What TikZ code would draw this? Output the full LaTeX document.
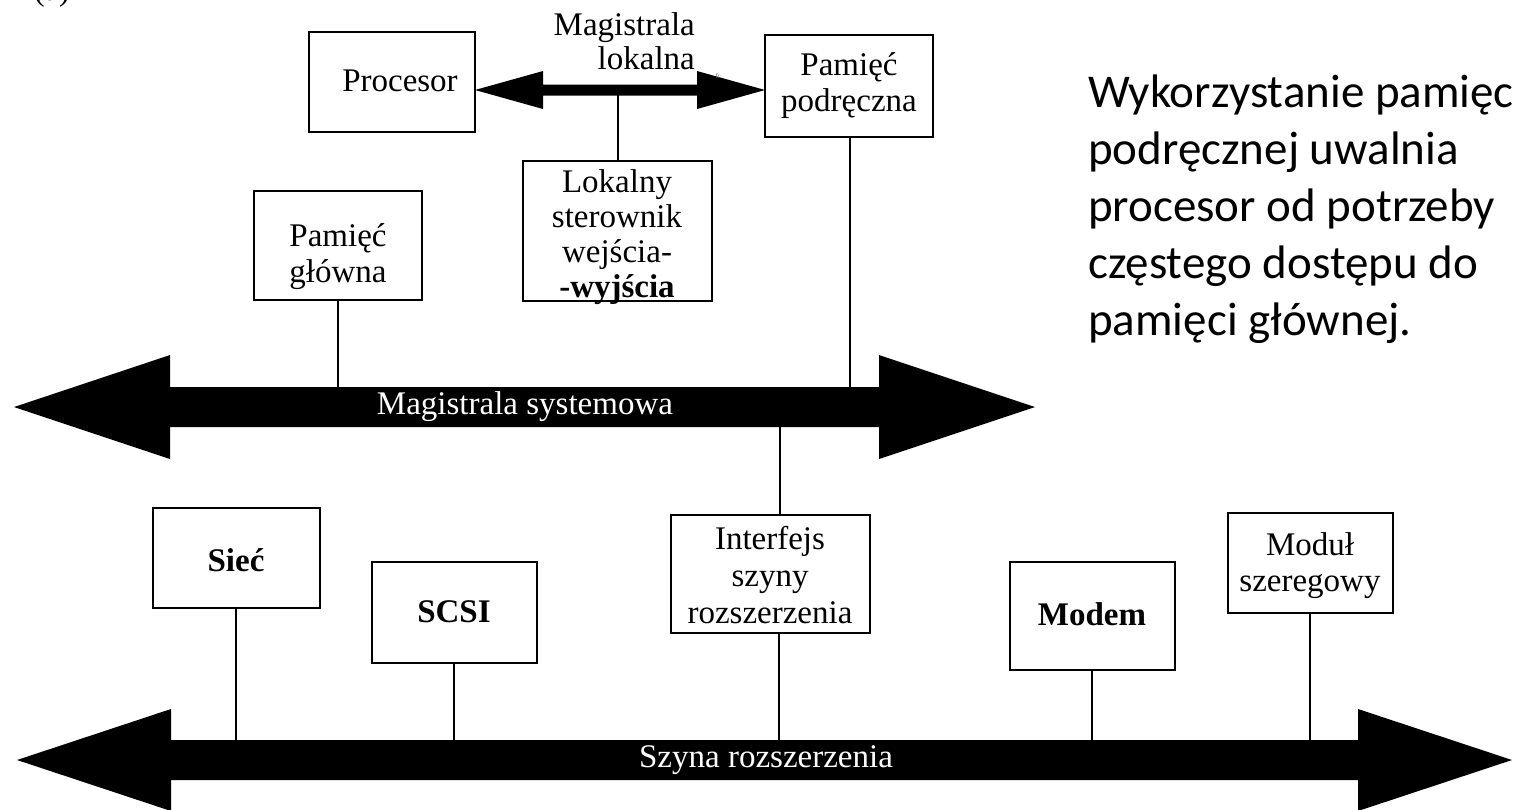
\documentclass[tikz,border=0pt]{standalone}
\usepackage{fontspec}
\setmainfont{Liberation Serif}
\newfontfamily\notefont{Carlito}
% fat double-headed bus: left tip x, right tip x, centre y, shaft half-height, head half-height, head length
\newcommand\drawbus[6]{%
  \fill (#1,#3) -- (#1+#6,#3-#5) -- (#1+#6,#3-#4) -- (#2-#6,#3-#4) -- (#2-#6,#3-#5)
     -- (#2,#3) -- (#2-#6,#3+#5) -- (#2-#6,#3+#4) -- (#1+#6,#3+#4) -- (#1+#6,#3+#5) -- cycle;}
\begin{document}
\begin{tikzpicture}[x=1pt,y=-1pt,
  unitbox/.style={draw, line width=2pt, fill=white, inner sep=0pt},
  boxtext/.style={inner sep=0pt, align=center, font=\fontsize{33}{36}\selectfont},
  link/.style={line width=2pt},
  buslabel/.style={text=white, inner sep=0pt, font=\fontsize{33}{36}\selectfont}]
\useasboundingbox (0,0) rectangle (1514,809);
\clip (0,0) rectangle (1514,809);

% figure tag
\node[font=\fontsize{32}{36}\selectfont] (tag) at (52,-7) {(a)};

% ---- upper level: processor, cache, local bus
\node[unitbox, minimum width=166pt, minimum height=100pt] (cpu) at (392,82) {};
\node[boxtext] (cputext) at (400,81) {Procesor};
\node[unitbox, minimum width=168pt, minimum height=102pt] (cache) at (849,86) {};
\node[boxtext] (cachetext) at (849,86) {Pamięć\\podręczna};
\node[unitbox, minimum width=189pt, minimum height=140pt] (lio) at (617,231) {};
\node[boxtext, font=\fontsize{33}{35}\selectfont] (liotext) at (617,237)
  {Lokalny\\sterownik\\wejścia-\\\textbf{-wyjścia}};
\node[unitbox, minimum width=168pt, minimum height=109pt] (mainmem) at (338,245) {};
\node[boxtext] (mainmemtext) at (338,257) {Pamięć\\główna};

% local bus between processor and cache
\drawbus{475}{765}{90}{5.5}{19}{68}
\coordinate (lbus) at (618,95);
\node[align=right, anchor=east, inner sep=0pt, font=\fontsize{33}{34}\selectfont] (lbuslabel)
  at (695,41) {Magistrala\\lokalna};
\node[text=black!60, inner sep=0pt, font=\fontsize{7}{8}\selectfont] (mark) at (718,76) {fc};
\draw[link] (lbus) -- (lbus |- lio.north);

% ---- system bus
\drawbus{14}{1035}{407}{20}{52}{156}
\node[buslabel] (sysbus) at (525,407) {Magistrala systemowa};
\coordinate (sysTop) at (0,387);
\coordinate (sysBot) at (780,427);
\draw[link] (mainmem.south) -- (mainmem.south |- sysTop);
\draw[link] (cache.south) ++(1,0) coordinate (cacheDrop) -- (cacheDrop |- sysTop);

% ---- expansion level
\node[unitbox, minimum width=167pt, minimum height=100pt] (net) at (236,558) {};
\node[boxtext] (nettext) at (236,560) {\textbf{Sieć}};
\node[unitbox, minimum width=165pt, minimum height=101pt] (scsi) at (454,612) {};
\node[boxtext] (scsitext) at (454,612) {\textbf{SCSI}};
\node[unitbox, minimum width=199pt, minimum height=118pt] (iface) at (770,574) {};
\node[boxtext, font=\fontsize{33}{37}\selectfont] (ifacetext) at (770,575)
  {Interfejs\\szyny\\rozszerzenia};
\node[unitbox, minimum width=165pt, minimum height=108pt] (modem) at (1092,616) {};
\node[boxtext] (modemtext) at (1092,614) {\textbf{Modem}};
\node[unitbox, minimum width=165pt, minimum height=100pt] (serial) at (1310,563) {};
\node[boxtext] (serialtext) at (1310,566) {Moduł\\szeregowy};

\draw[link] (sysBot) -- (sysBot |- iface.north);

% expansion bus
\drawbus{17}{1512}{760}{20}{51}{154}
\node[buslabel] (extbus) at (766,760) {Szyna rozszerzenia};
\coordinate (extTop) at (0,740);
\draw[link] (net.south) -- (net.south |- extTop);
\draw[link] (scsi.south) -- (scsi.south |- extTop);
\draw[link] (iface.south) ++(9,0) coordinate (ifaceDrop) -- (ifaceDrop |- extTop);
\draw[link] (modem.south) -- (modem.south |- extTop);
\draw[link] (serial.south) -- (serial.south |- extTop);

% ---- side note
\node[anchor=north west, align=left, inner sep=0pt, font=\notefont\fontsize{47}{57}\selectfont] (note)
  at (1088,75) {Wykorzystanie pamięci\\podręcznej uwalnia\\procesor od potrzeby\\częstego dostępu do\\pamięci głównej.};
\end{tikzpicture}
\end{document}
